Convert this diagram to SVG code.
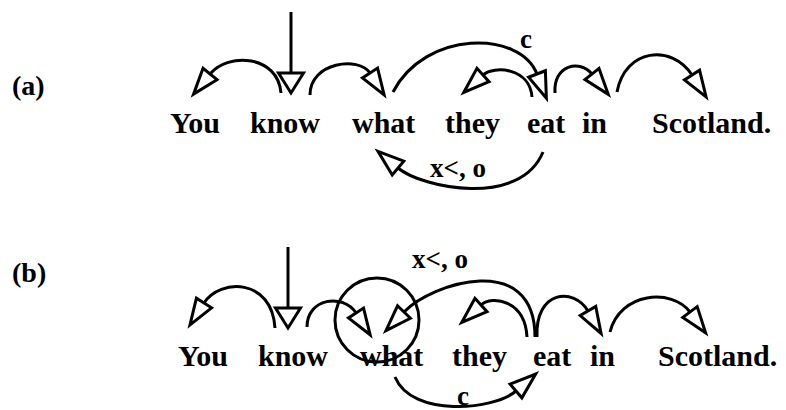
<svg xmlns="http://www.w3.org/2000/svg" width="786" height="410" viewBox="0 0 786 410">
<style>
.w{font-family:"Liberation Serif","Times New Roman",serif;font-weight:bold;font-size:30px;fill:#000}
.l{font-family:"Liberation Serif","Times New Roman",serif;font-weight:bold;font-size:27px;fill:#000}
.p{font-family:"Liberation Serif","Times New Roman",serif;font-weight:bold;font-size:28px;fill:#000}
.c{fill:none;stroke:#000;stroke-width:3}
.a{marker-end:url(#ah)}
.v{marker-end:url(#av)}
</style>
<defs>
<marker id="ah" markerUnits="userSpaceOnUse" refX="0" refY="0" orient="auto" overflow="visible" markerWidth="1" markerHeight="1">
<path d="M0,-9 L26,0 L0,9 Z" fill="#fff" stroke="#000" stroke-width="3" stroke-linejoin="miter"/>
</marker>
<marker id="av" markerUnits="userSpaceOnUse" refX="0" refY="0" orient="auto" overflow="visible" markerWidth="1" markerHeight="1">
<path d="M0,-12.5 L20,0 L0,12.5 Z" fill="#fff" stroke="#000" stroke-width="3" stroke-linejoin="miter"/>
</marker>
</defs>
<rect width="786" height="410" fill="#fff"/>
<text class="p" x="12" y="95">(a)</text>
<text class="p" x="12" y="282">(b)</text>
<g id="a-you"><text class="w" x="170" y="133">You</text></g>
<g id="a-know"><text class="w" x="250" y="133">know</text></g>
<g id="a-what"><text class="w" x="352" y="133">what</text></g>
<g id="a-they"><text class="w" x="445" y="133">they</text></g>
<g id="a-eat"><text class="w" x="527" y="133">eat</text></g>
<g id="a-in"><text class="w" x="582" y="133">in</text></g>
<g id="a-scotland"><text class="w" x="652" y="133">Scotland.</text></g>
<g id="b-you"><text class="w" x="178" y="366">You</text></g>
<g id="b-know"><text class="w" x="258" y="366">know</text></g>
<g id="b-what"><text class="w" x="360" y="366">what</text></g>
<g id="b-they"><text class="w" x="452" y="366">they</text></g>
<g id="b-eat"><text class="w" x="533" y="366">eat</text></g>
<g id="b-in"><text class="w" x="590" y="366">in</text></g>
<g id="b-scotland"><text class="w" x="658" y="366">Scotland.</text></g>
<g id="connectors">
<path class="c v" d="M291,12 L291,73"/>
<path class="c a" d="M281,93 C278,55 228,52 210,74"/>
<path class="c a" d="M310,95 C310,62 359,56 370,73"/>
<path class="c a" d="M393,92 C425,30 520,30 537,74"/>
<path class="c a" d="M532,97 C530,68 494,65 483,75"/>
<path class="c a" d="M555,93 C553,65 580,59 592,74"/>
<path class="c a" d="M617,92 C625,48 672,44 692,75"/>
<path class="c a" d="M543,152 C520,208 422,188 398,168"/>
<text class="l" x="520" y="48">c</text>
<text class="l" x="430" y="177">x&lt;, o</text>
<path class="c v" d="M288,247 L288,308"/>
<path class="c a" d="M275,328 C272,278 220,278 204,303"/>
<path class="c a" d="M307,327 C307,298 343,293 356,313"/>
<circle class="c" cx="377" cy="320" r="42"/>
<path class="c a" d="M535,337 C535,250 432,283 404,312"/>
<path class="c a" d="M527,337 C525,300 492,295 481,305"/>
<path class="c a" d="M537,337 C535,290 574,287 588,311"/>
<path class="c a" d="M610,332 C620,292 672,288 690,312"/>
<path class="c a" d="M395,377 C412,418 494,410 516,391"/>
<text class="l" x="412" y="268">x&lt;, o</text>
<text class="l" x="457" y="405">c</text>
</g>
</svg>
